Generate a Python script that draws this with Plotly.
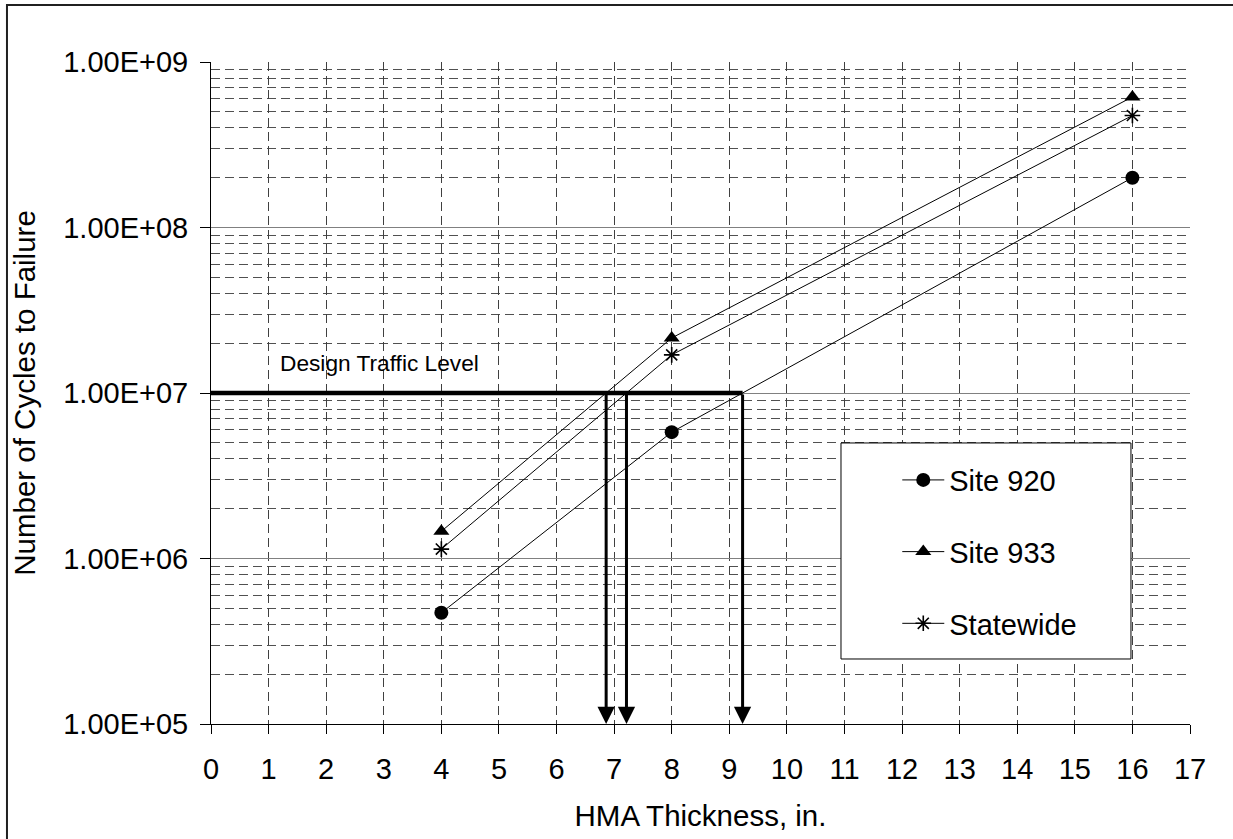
import numpy as np
import plotly.graph_objects as go

# HMA thickness (in.) and predicted cycles to failure for each data set
thickness = [4, 8, 16]
site_920 = [4.7e5, 5.8e6, 2.0e8]
site_933 = [1.46e6, 2.15e7, 6.15e8]
statewide = [1.14e6, 1.70e7, 4.75e8]

design_traffic = 1.0e7

y_tick_vals = [1e5, 1e6, 1e7, 1e8, 1e9]
y_tick_text = ["1.00E+05", "1.00E+06", "1.00E+07", "1.00E+08", "1.00E+09"]
x_tick_vals = list(range(0, 18))

FONT = "Liberation Sans, Arial, sans-serif"
FS_TICK = 29
FS_TITLE = 29.5


def crossing(xs, ys, level):
    """Thickness where a series reaches the design level (log-linear interpolation)."""
    ly = np.log10(ys)
    lv = np.log10(level)
    for i in range(len(xs) - 1):
        if ly[i] <= lv <= ly[i + 1]:
            t = (lv - ly[i]) / (ly[i + 1] - ly[i])
            return xs[i] + t * (xs[i + 1] - xs[i])
    return None


fig = go.Figure()

series = [
    ("Site 920", site_920, dict(symbol="circle", size=14, color="black")),
    ("Site 933", site_933, dict(symbol="triangle-up", size=14, color="black")),
    ("Statewide", statewide, dict(symbol="asterisk-open", size=13, color="black",
                                  line=dict(color="black", width=1.6))),
]
for i, (name, vals, mk) in enumerate(series):
    fig.add_trace(go.Scatter(
        x=thickness, y=vals, name=name, mode="lines+markers",
        line=dict(color="black", width=1), marker=mk,
        legendgroup=f"g{i}", cliponaxis=False,
    ))

crossings = [crossing(thickness, s, design_traffic) for _, s, _ in series]
x_end = max(crossings)

# Design traffic level: thick horizontal line
fig.add_trace(go.Scatter(
    x=[-0.13, x_end], y=[design_traffic, design_traffic], mode="lines",
    line=dict(color="black", width=4.5), showlegend=False,
    hoverinfo="skip", cliponaxis=False,
))

# Downward arrows from each crossing to the thickness axis
for xc in crossings:
    fig.add_annotation(
        x=xc, y=5, ax=xc, ay=np.log10(design_traffic),
        xref="x", yref="y", axref="x", ayref="y",
        text="", showarrow=True, arrowhead=2, arrowsize=1.15,
        arrowwidth=3, arrowcolor="black", standoff=0,
    )

fig.add_annotation(
    x=1.16, y=np.log10(design_traffic), xref="x", yref="y",
    text="Design Traffic Level", showarrow=False,
    xanchor="left", yanchor="bottom", yshift=15,
    font=dict(family=FONT, size=22.7, color="black"),
)

# Legend frame
fig.add_shape(type="rect", xref="paper", yref="paper",
              x0=0.6435, x1=0.9397, y0=0.0982, y1=0.4245,
              line=dict(color="black", width=1), fillcolor="white",
              layer="above")

# Outer chart frame
fig.add_shape(type="rect", xref="paper", yref="paper",
              x0=-0.2084, x1=1.06, y0=-0.20, y1=1.0861,
              line=dict(color="#202020", width=2), fillcolor="rgba(0,0,0,0)",
              layer="above")

minor_vals = [m * 10 ** d for d in range(5, 9) for m in range(2, 10)]

fig.update_layout(
    width=1233, height=839,
    margin=dict(l=211, r=43, t=62, b=115),
    paper_bgcolor="white", plot_bgcolor="white",
    font=dict(family=FONT, size=FS_TICK, color="black"),
    showlegend=True,
    legend=dict(
        x=0.701, y=0.407, xanchor="left", yanchor="top",
        bgcolor="rgba(0,0,0,0)", borderwidth=0, itemwidth=42,
        tracegroupgap=31, font=dict(family=FONT, size=FS_TICK, color="black"),
    ),
    xaxis=dict(
        range=[0, 17], tickmode="array", tickvals=x_tick_vals,
        ticks="outside", ticklen=9, tickcolor="black", tickwidth=1,
        showline=True, linecolor="black", linewidth=1,
        showgrid=True, gridcolor="#404040", gridwidth=1, griddash="9px,5px",
        zeroline=False, ticklabelstandoff=10,
        tickfont=dict(family=FONT, size=FS_TICK),
        title=dict(text="HMA Thickness, in.", standoff=21,
                   font=dict(family=FONT, size=FS_TITLE)),
    ),
    yaxis=dict(
        type="log", range=[5, 9], tickmode="array",
        tickvals=y_tick_vals, ticktext=y_tick_text,
        ticks="outside", ticklen=10, tickcolor="black", tickwidth=1,
        showline=True, linecolor="black", linewidth=1,
        showgrid=True, gridcolor="#808080", gridwidth=1,
        zeroline=False, ticklabelstandoff=6,
        tickfont=dict(family=FONT, size=FS_TICK),
        minor=dict(tickvals=minor_vals, showgrid=True, gridcolor="#505050",
                   gridwidth=1, griddash="9px,5px", ticks=""),
        title=dict(text="Number of Cycles to Failure", standoff=18.5,
                   font=dict(family=FONT, size=FS_TITLE)),
    ),
)

fig.write_html("out.html")
